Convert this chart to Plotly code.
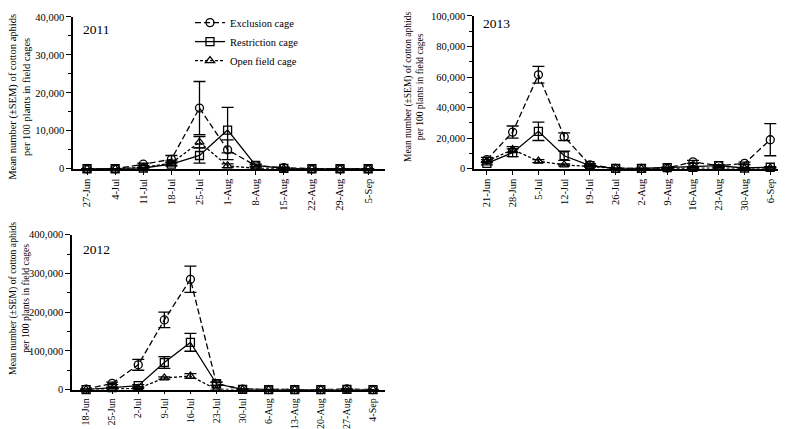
import plotly.graph_objects as go

# ---------------- data ----------------
dates_2011 = ["27-Jun", "4-Jul", "11-Jul", "18-Jul", "25-Jul", "1-Aug", "8-Aug",
              "15-Aug", "22-Aug", "29-Aug", "5-Sep"]
excl_2011 = [0, 0, 1200, 2500, 16000, 5000, 800, 300, 0, 0, 0]
excl_2011_err = [0, 0, 300, 1000, 7000, 2600, 300, 100, 0, 0, 0]
restr_2011 = [0, 0, 200, 1200, 3500, 10200, 900, 100, 0, 0, 0]
restr_2011_err = [0, 0, 100, 500, 2000, 6000, 300, 50, 0, 0, 0]
open_2011 = [0, 0, 300, 1500, 7000, 800, 100, 0, 0, 0, 0]
open_2011_err = [0, 0, 100, 600, 1500, 500, 50, 0, 0, 0, 0]

dates_2013 = ["21-Jun", "28-Jun", "5-Jul", "12-Jul", "19-Jul", "26-Jul", "2-Aug",
              "9-Aug", "16-Aug", "23-Aug", "30-Aug", "6-Sep"]
excl_2013 = [6000, 24000, 61500, 21000, 2500, 300, 200, 500, 4500, 2000, 3500, 19000]
excl_2013_err = [1500, 4000, 5500, 2500, 800, 100, 100, 200, 1000, 500, 800, 10500]
restr_2013 = [3500, 10500, 24500, 8500, 2000, 200, 200, 800, 1000, 2000, 500, 1000]
restr_2013_err = [1000, 2500, 6000, 3000, 600, 100, 100, 300, 400, 600, 200, 400]
open_2013 = [5000, 12500, 5000, 2500, 1500, 200, 100, 300, 300, 500, 300, 500]
open_2013_err = [1000, 2000, 1000, 600, 400, 100, 50, 100, 100, 200, 100, 200]

dates_2012 = ["18-Jun", "25-Jun", "2-Jul", "9-Jul", "16-Jul", "23-Jul", "30-Jul",
              "6-Aug", "13-Aug", "20-Aug", "27-Aug", "4-Sep"]
excl_2012 = [1000, 16000, 64000, 180000, 285000, 15000, 1000, 0, 0, 0, 1500, 0]
excl_2012_err = [500, 3000, 14000, 20000, 34000, 4000, 500, 0, 0, 0, 500, 0]
restr_2012 = [0, 5000, 10000, 70000, 122000, 15000, 500, 0, 0, 0, 500, 0]
restr_2012_err = [0, 1500, 3000, 15000, 23000, 4000, 200, 0, 0, 0, 200, 0]
open_2012 = [0, 1000, 3000, 30000, 35000, 500, 0, 0, 0, 0, 0, 0]
open_2012_err = [0, 500, 1000, 3000, 6000, 200, 0, 0, 0, 0, 0, 0]

series_names = ["Exclusion cage", "Restriction cage", "Open field cage"]
y_title = "Mean number (±SEM) of cotton aphids<br>per 100 plants in field cages"

# ---------------- style ----------------
FONT = "Liberation Serif"
FONT_SANS = "Liberation Sans Narrow"
OFF = 8                      # default body margin of the html page
W, H = 787 - OFF, 429 - OFF  # figure size so the page fits the window
styles = [
    dict(symbol="circle-open", dash="6px,3px"),
    dict(symbol="square-open", dash="solid"),
    dict(symbol="triangle-up-open", dash="3px,2px"),
]

fig = go.Figure()

panels = [
    ("x", "y", dates_2011,
     [(excl_2011, excl_2011_err), (restr_2011, restr_2011_err), (open_2011, open_2011_err)], True),
    ("x2", "y2", dates_2013,
     [(excl_2013, excl_2013_err), (restr_2013, restr_2013_err), (open_2013, open_2013_err)], False),
    ("x3", "y3", dates_2012,
     [(excl_2012, excl_2012_err), (restr_2012, restr_2012_err), (open_2012, open_2012_err)], False),
]

for xa, ya, dates, data, show in panels:
    for (vals, errs), name, st in zip(data, series_names, styles):
        fig.add_trace(go.Scatter(
            x=dates, y=vals, name=name, xaxis=xa, yaxis=ya,
            mode="lines+markers", showlegend=show, cliponaxis=False,
            line=dict(color="black", width=1.3, dash=st["dash"]),
            marker=dict(symbol=st["symbol"], size=8, color="black",
                        line=dict(color="black", width=1.3)),
            error_y=dict(type="data", array=errs, visible=True, color="black",
                         thickness=1.3, width=6),
        ))


def px_x(p):
    return (p - OFF) / W


def px_y(p):
    return 1 - (p - OFF) / H


axis_common = dict(showline=True, linecolor="black", linewidth=1.5, showgrid=False,
                   zeroline=False, ticks="outside", tickcolor="black", tickwidth=1.3,
                   automargin=False)
xfont = dict(family=FONT, size=10.5, color="black")
xfont_low = dict(family=FONT, size=10, color="black")
yfont = dict(family=FONT, size=10.5, color="black")

fig.update_layout(
    width=W, height=H, margin=dict(l=0, r=0, t=0, b=0),
    paper_bgcolor="white", plot_bgcolor="white",
    font=dict(family=FONT, size=11, color="black"),
    xaxis=dict(domain=[px_x(73), px_x(385)], anchor="y", type="category",
               range=[-0.5, 10.6], tickangle=-90, ticklen=4, tickfont=xfont, **axis_common),
    yaxis=dict(domain=[px_y(165), px_y(11)], anchor="x", range=[0, 40000],
               dtick=10000, tickformat=",d", ticklen=5, tickfont=yfont,
               minor=dict(dtick=5000, ticks="outside", ticklen=3, tickcolor="black"),
               **axis_common),
    xaxis2=dict(domain=[px_x(474), px_x(778)], anchor="y2", type="category",
                range=[-0.5, 11.3], tickangle=-90, ticklen=4, tickfont=xfont, **axis_common),
    yaxis2=dict(domain=[px_y(165), px_y(10)], anchor="x2", range=[0, 100000],
                dtick=20000, tickformat=",d", ticklen=5, tickfont=yfont,
                minor=dict(dtick=10000, ticks="outside", ticklen=3, tickcolor="black"),
                **axis_common),
    xaxis3=dict(domain=[px_x(72), px_x(385)], anchor="y3", type="category",
                range=[-0.54, 11.46], tickangle=-90, ticklen=3, tickfont=xfont_low,
                **axis_common),
    yaxis3=dict(domain=[px_y(389), px_y(232)], anchor="x3", range=[0, 400000],
                dtick=100000, tickformat=",d", ticklen=5, tickfont=yfont,
                minor=dict(dtick=50000, ticks="outside", ticklen=3, tickcolor="black"),
                **axis_common),
    legend=dict(x=px_x(190), y=px_y(36), xanchor="left", yanchor="middle",
                bgcolor="rgba(0,0,0,0)", font=dict(family=FONT, size=10.5, color="black"),
                itemwidth=30, tracegroupgap=0),
)

annots = [
    dict(text="2011", x=px_x(81), y=px_y(24)),
    dict(text="2013", x=px_x(481), y=px_y(18)),
    dict(text="2012", x=px_x(81), y=px_y(247)),
]
for a in annots:
    fig.add_annotation(xref="paper", yref="paper", xanchor="left", yanchor="middle",
                       showarrow=False, font=dict(family=FONT, size=13.5, color="black"), **a)

# y-axis titles: 2011 panel in a narrow sans face, the others in serif
for cx, cy, fam, fs in [(20, 92, FONT_SANS, 10.5), (414, 82, FONT, 9.5), (19, 297, FONT, 9.7)]:
    fig.add_annotation(text=y_title, xref="paper", yref="paper", x=px_x(cx), y=px_y(cy),
                       xanchor="center", yanchor="middle", textangle=-90, showarrow=False,
                       font=dict(family=fam, size=fs, color="black"))

fig.write_html("out.html")
